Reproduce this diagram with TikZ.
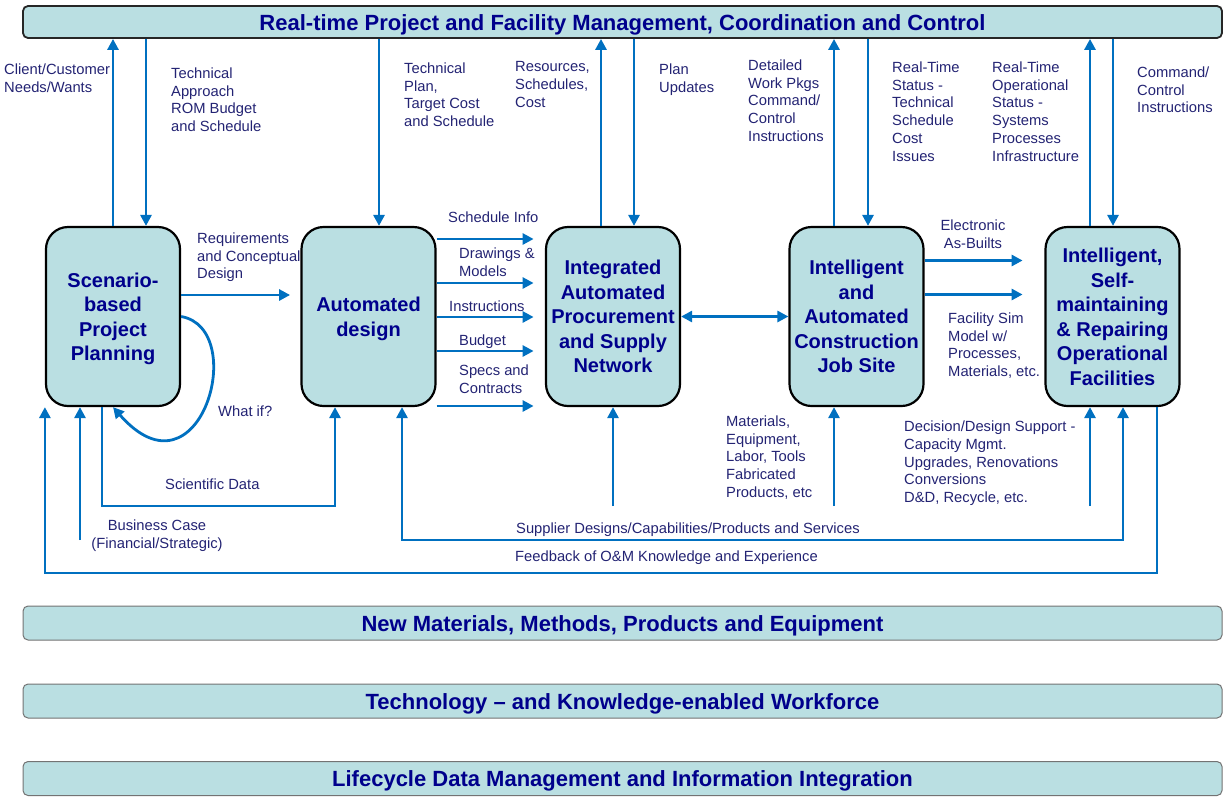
\documentclass[tikz,border=0pt]{standalone}
\usepackage{fontspec}
\setmainfont{Liberation Sans}
\usetikzlibrary{arrows.meta,calc}
\definecolor{boxfill}{RGB}{186,223,226}
\definecolor{flowblue}{RGB}{0,112,192}
\definecolor{headnavy}{RGB}{0,0,140}
\definecolor{labelnavy}{RGB}{35,35,115}
\tikzset{
    >={Triangle[length=11pt,width=11pt]},
    mgmt/.style={
        box/.append style={align=center,draw=black,line width=2.2pt,fill=boxfill,rounded corners=22pt,minimum width=134pt,minimum height=179pt,inner sep=0pt,text=headnavy,text depth=-4pt,font=\bfseries\fontsize{20}{24.5}\selectfont},
        bar/.append style={draw=black!85,line width=1.8pt,fill=boxfill,rounded corners=5pt,minimum width=1199pt,minimum height=32pt,inner sep=0pt,text=headnavy,text height=16pt,text depth=0pt,font=\bfseries\fontsize{22}{24}\selectfont},
        band/.append style={bar,draw=black!55,line width=1pt,minimum height=34pt},
        lbl/.append style={align=left,anchor=north west,inner sep=0pt,text=labelnavy,font=\fontsize{14.75}{17.8}\selectfont},
        flow/.append style={draw=flowblue,line width=2.8pt,->}
    }
}

\begin{document}
\begin{tikzpicture}[mgmt,x=1pt,y=-1pt]
    \useasboundingbox (0,0) rectangle (1225,796);

    % bars
    \node[bar] (top) at (622.5, 22) {Real-time Project and Facility Management, Coordination and Control};
    \node[band] (newmat) at (622.5, 623) {New Materials, Methods, Products and Equipment};
    \node[band] (workforce) at (622.5, 701) {Technology -- and Knowledge-enabled Workforce};
    \node[band] (lifecycle) at (622.5, 778.5) {Lifecycle Data Management and Information Integration};

    % boxes
    \node[box] (plan) at (113, 316.5) {Scenario-\\based\\Project\\Planning};
    \node[box] (design) at (368.5, 316.5) {Automated\\design};
    \node[box] (supply) at (613, 316.5) {Integrated\\Automated\\Procurement\\and Supply\\Network};
    \node[box] (site) at (856.5, 316.5) {Intelligent\\and\\Automated\\Construction\\Job Site};
    \node[box] (ops) at (1112.5, 316.5) {Intelligent,\\Self-\\maintaining\\\& Repairing\\Operational\\Facilities};

    % to and from the top bar
    \coordinate (planA) at ([xshift=33pt]plan.north);
    \coordinate (desA) at ([xshift=10.5pt]design.north);
    \coordinate (supA) at ([xshift=-12pt]supply.north);
    \coordinate (supB) at ([xshift=21pt]supply.north);
    \coordinate (siteA) at ([xshift=-22.5pt]site.north);
    \coordinate (siteB) at ([xshift=11.5pt]site.north);
    \coordinate (opsA) at ([xshift=-22.5pt]ops.north);
    \coordinate (opsB) at ([xshift=0.5pt]ops.north);
    \draw[flow] (plan.north) -- (plan.north |- top.south);
    \draw[flow] (top.south -| planA) -- (planA);
    \draw[flow] (top.south -| desA) -- (desA);
    \draw[flow] (supA) -- (supA |- top.south);
    \draw[flow] (top.south -| supB) -- (supB);
    \draw[flow] (siteA) -- (siteA |- top.south);
    \draw[flow] (top.south -| siteB) -- (siteB);
    \draw[flow] (opsA) -- (opsA |- top.south);
    \draw[flow] (top.south -| opsB) -- (opsB);

    \node[lbl] (needs) at (4, 63.5) {Client/Customer\\Needs/Wants};
    \node[lbl] (approach) at (171, 67.5) {Technical\\Approach\\ROM Budget\\and Schedule};
    \node[lbl] (techplan) at (404, 62.5) {Technical\\Plan,\\Target Cost\\and Schedule};
    \node[lbl] (resources) at (515, 61.5) {Resources,\\Schedules,\\Cost};
    \node[lbl] (updates) at (659, 63.5) {Plan\\Updates};
    \node[lbl] (workpkgs) at (748, 59.5) {Detailed\\Work Pkgs\\Command/\\Control\\Instructions};
    \node[lbl] (status) at (892, 61.5) {Real-Time\\Status -\\Technical\\Schedule\\Cost\\Issues};
    \node[lbl] (opstatus) at (992, 61.5) {Real-Time\\Operational\\Status -\\Systems\\Processes\\Infrastructure};
    \node[lbl] (command) at (1137, 66.5) {Command/\\Control\\Instructions};

    % between the boxes
    \draw[flow] ([yshift=21.5pt]plan.east) -- ([yshift=21.5pt,xshift=109pt]plan.east);
    \draw[flow] (plan.east) .. controls +(69,12) and +(87,99) .. (plan.south);
    \foreach \dy in {77.5,33.5,-0.5,-34.5,-89.5}
        \draw[flow] ([yshift=\dy pt]design.east) -- ([yshift=\dy pt,xshift=97pt]design.east);
    \draw[flow,<->] (supply.east) -- (site.west);
    \foreach \dy in {56,22}
        \draw[flow] ([yshift=\dy pt]site.east) -- ([yshift=\dy pt,xshift=98pt]site.east);

    \node[lbl] (reqs) at (197, 232.5) {Requirements\\and Conceptual\\Design};
    \node[lbl] (whatif) at (218, 405.5) {What if?};
    \node[lbl] (schedinfo) at (448, 211.5) {Schedule Info};
    \node[lbl] (drawings) at (459, 247.5) {Drawings \&\\Models};
    \node[lbl] (instr) at (449, 300.5) {Instructions};
    \node[lbl] (budget) at (459, 334.5) {Budget};
    \node[lbl] (specs) at (459, 364.5) {Specs and\\Contracts};
    \node[lbl,align=center,anchor=north] (asbuilt) at (973, 219.5) {Electronic\\As-Builts};
    \node[lbl] (simmodel) at (948, 312.5) {Facility Sim\\Model w/\\Processes,\\Materials, etc.};

    % below the boxes
    \coordinate (lowA) at (0, 506);
    \coordinate (lowB) at (0, 540);
    \coordinate (lowC) at (0, 573);
    \coordinate (bizA) at (80, 540);
    \coordinate (sciA) at ([xshift=-11pt]plan.south);
    \coordinate (sciB) at ([xshift=-33.5pt]design.south);
    \coordinate (supC) at ([xshift=33.5pt]design.south);
    \coordinate (siteC) at ([xshift=-22.5pt]site.south);
    \coordinate (opsC) at ([xshift=10.5pt]ops.south);
    \coordinate (opsD) at ([xshift=44.5pt]ops.south);
    \coordinate (opsE) at ([xshift=-22.5pt]ops.south);
    \draw[flow] (sciA) |- (lowA -| sciB) -- (sciB);
    \draw[flow,<->] (supC) |- (lowB -| opsC) -- (opsC);
    \draw[flow] (opsD) |- (lowC -| plan.west) -- (plan.south west);
    \draw[flow] (bizA) -- (bizA |- plan.south);
    \draw[flow] (supply.south |- lowA) -- (supply.south);
    \draw[flow] (siteC |- lowA) -- (siteC);
    \draw[flow] (opsE |- lowA) -- (opsE);

    \node[lbl] (materials) at (726, 415.5) {Materials,\\Equipment,\\Labor, Tools\\Fabricated\\Products, etc};
    \node[lbl] (decision) at (904, 420.5) {Decision/Design Support -\\Capacity Mgmt.\\Upgrades, Renovations\\Conversions\\D\&D, Recycle, etc.};
    \node[lbl] (scidata) at (165, 478.5) {Scientific Data};
    \node[lbl,align=center,anchor=north] (bizcase) at (157, 519.5) {Business Case\\(Financial/Strategic)};
    \node[lbl] (supplier) at (516, 522.5) {Supplier Designs/Capabilities/Products and Services};
    \node[lbl] (feedback) at (515, 550.5) {Feedback of O\&M Knowledge and Experience};
\end{tikzpicture}
\end{document}
